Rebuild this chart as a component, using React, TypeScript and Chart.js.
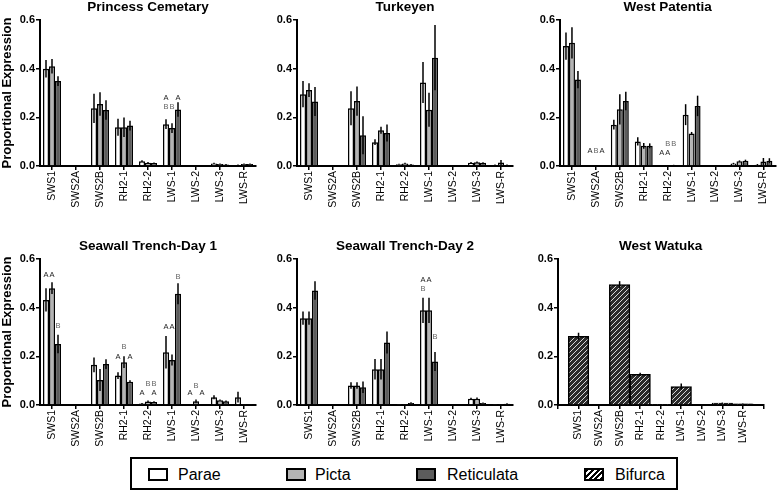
import React, { useEffect, useRef } from 'react';
import { Chart, registerables } from 'chart.js';

Chart.register(...registerables);
Chart.defaults.font.family = '"Liberation Sans", Arial, Helvetica, sans-serif';

// ---------- data ----------
const categories = ['SWS1', 'SWS2A', 'SWS2B', 'RH2-1', 'RH2-2', 'LWS-1', 'LWS-2', 'LWS-3', 'LWS-R'];
const seriesNames = ['Parae', 'Picta', 'Reticulata', 'Bifurca'];
const yTicks = [0, 0.2, 0.4, 0.6];

// Princess Cemetary
const pcParae = [0.4, 0, 0.237, 0.159, 0.02, 0.172, 0, 0.01, 0.004];
const pcParaeErr = [0.036, 0, 0.06, 0.035, 0.004, 0.02, 0, 0.003, 0.002];
const pcPicta = [0.41, 0, 0.255, 0.159, 0.013, 0.156, 0, 0.008, 0.008];
const pcPictaErr = [0.03, 0, 0.048, 0.04, 0.003, 0.02, 0, 0.002, 0.002];
const pcRetic = [0.349, 0, 0.23, 0.166, 0.012, 0.232, 0, 0.006, 0.008];
const pcReticErr = [0.02, 0, 0.04, 0.02, 0.002, 0.03, 0, 0.002, 0.002];
const pcLetters: [number, number, string, number][] = [
  [5, 0, 'A', 0.278], [5, 0, 'B', 0.244], [5, 1, 'B', 0.244], [5, 2, 'A', 0.278],
];

// Turkeyen
const tkParae = [0.295, 0, 0.237, 0.098, 0.007, 0.343, 0, 0.013, 0.004];
const tkParaeErr = [0.054, 0, 0.07, 0.012, 0.002, 0.084, 0, 0.003, 0.002];
const tkPicta = [0.312, 0, 0.267, 0.147, 0.01, 0.231, 0, 0.015, 0.014];
const tkPictaErr = [0.028, 0, 0.06, 0.014, 0.003, 0.07, 0, 0.003, 0.011];
const tkRetic = [0.265, 0, 0.126, 0.136, 0.006, 0.445, 0, 0.013, 0.004];
const tkReticErr = [0.06, 0, 0.078, 0.035, 0.002, 0.134, 0, 0.002, 0.002];
const tkLetters: [number, number, string, number][] = [];

// West Patentia
const wpParae = [0.493, 0, 0.17, 0.101, 0.003, 0.211, 0, 0.01, 0.005];
const wpParaeErr = [0.056, 0, 0.02, 0.017, 0.001, 0.043, 0, 0.003, 0.003];
const wpPicta = [0.506, 0, 0.233, 0.083, 0.003, 0.134, 0, 0.02, 0.018];
const wpPictaErr = [0.064, 0, 0.062, 0.012, 0.001, 0.006, 0, 0.003, 0.015];
const wpRetic = [0.355, 0, 0.267, 0.083, 0.004, 0.247, 0, 0.022, 0.022];
const wpReticErr = [0.035, 0, 0.038, 0.01, 0.001, 0.042, 0, 0.004, 0.01];
const wpLetters: [number, number, string, number][] = [
  [1, 0, 'A', 0.062], [1, 1, 'B', 0.062], [1, 2, 'A', 0.062],
  [4, 0, 'A', 0.055], [4, 1, 'A', 0.055], [4, 1, 'B', 0.092], [4, 2, 'B', 0.092],
];

// Seawall Trench-Day 1
const d1Parae = [0.432, 0, 0.165, 0.121, 0.006, 0.217, 0, 0.032, 0.032];
const d1ParaeErr = [0.048, 0, 0.03, 0.014, 0.002, 0.067, 0, 0.008, 0.022];
const d1Picta = [0.48, 0, 0.103, 0.176, 0.014, 0.185, 0.015, 0.02, 0.002];
const d1PictaErr = [0.024, 0, 0.045, 0.024, 0.004, 0.023, 0.008, 0.003, 0.001];
const d1Retic = [0.251, 0, 0.168, 0.096, 0.012, 0.457, 0, 0.015, 0.002];
const d1ReticErr = [0.038, 0, 0.02, 0.006, 0.003, 0.043, 0, 0.004, 0.001];
const d1Letters: [number, number, string, number][] = [
  [0, 0, 'A', 0.534], [0, 1, 'A', 0.534], [0, 2, 'B', 0.325],
  [3, 0, 'A', 0.197], [3, 1, 'B', 0.24], [3, 2, 'A', 0.197],
  [4, 0, 'A', 0.05], [4, 1, 'B', 0.086], [4, 2, 'B', 0.086], [4, 2, 'A', 0.05],
  [5, 0, 'A', 0.32], [5, 1, 'A', 0.32], [5, 2, 'B', 0.526],
  [6, 0, 'A', 0.049], [6, 1, 'B', 0.08], [6, 2, 'A', 0.049],
];

// Seawall Trench-Day 2
const d2Parae = [0.357, 0, 0.08, 0.147, 0.002, 0.389, 0, 0.026, 0.002];
const d2ParaeErr = [0.027, 0, 0.013, 0.042, 0.001, 0.052, 0, 0.004, 0.001];
const d2Picta = [0.357, 0, 0.08, 0.147, 0.002, 0.389, 0, 0.026, 0.002];
const d2PictaErr = [0.027, 0, 0.013, 0.042, 0.001, 0.052, 0, 0.005, 0.001];
const d2Retic = [0.471, 0, 0.073, 0.257, 0.008, 0.179, 0, 0.008, 0.005];
const d2ReticErr = [0.038, 0, 0.024, 0.045, 0.003, 0.039, 0, 0.002, 0.002];
const d2Letters: [number, number, string, number][] = [
  [5, 0, 'A', 0.514], [5, 1, 'A', 0.514], [5, 0, 'B', 0.477], [5, 2, 'B', 0.28],
];

// West Watuka
const wwBifurca = [0.282, 0, 0.495, 0.126, 0.003, 0.076, 0, 0.008, 0.005];
const wwBifurcaErr = [0.015, 0, 0.014, 0.007, 0.001, 0.012, 0, 0.002, 0.001];

// ---------- styles ----------
const PARAE_COLOR = '#ffffff';
const PICTA_COLOR = '#b4b4b4';
const RETIC_COLOR = '#5c5c5c';

function makeHatch(): CanvasPattern | string {
  const s = 5;
  const c = document.createElement('canvas');
  c.width = s;
  c.height = s;
  const g = c.getContext('2d');
  if (!g) return '#444';
  g.fillStyle = '#2a2a2a';
  g.fillRect(0, 0, s, s);
  g.strokeStyle = '#d8d8d8';
  g.lineWidth = 1;
  g.beginPath();
  g.moveTo(0, s);
  g.lineTo(s, 0);
  g.moveTo(-1, 1);
  g.lineTo(1, -1);
  g.moveTo(s - 1, s + 1);
  g.lineTo(s + 1, s - 1);
  g.stroke();
  const p = g.createPattern(c, 'repeat');
  return p || '#444';
}

const errorBarPlugin = {
  id: 'errorBars',
  afterDatasetsDraw(chart: any) {
    const ctx = chart.ctx;
    const ys = chart.scales.y;
    ctx.save();
    ctx.strokeStyle = '#000';
    ctx.lineWidth = 1.5;
    chart.data.datasets.forEach((ds: any, i: number) => {
      const meta = chart.getDatasetMeta(i);
      meta.data.forEach((el: any, j: number) => {
        const v = ds.data[j];
        const e = ds.errors ? ds.errors[j] : 0;
        if (v == null || !e) return;
        const y1 = ys.getPixelForValue(v + e);
        const y2 = ys.getPixelForValue(Math.max(0, v - e));
        ctx.beginPath();
        ctx.moveTo(el.x, y1);
        ctx.lineTo(el.x, y2);
        ctx.stroke();
      });
    });
    ctx.restore();
  },
};

const lettersPlugin = {
  id: 'letters',
  afterDatasetsDraw(chart: any, _args: any, opts: any) {
    const list = opts.items || [];
    const ctx = chart.ctx;
    const ys = chart.scales.y;
    ctx.save();
    ctx.font = '7.5px "Liberation Sans", Arial, sans-serif';
    ctx.textAlign = 'center';
    ctx.textBaseline = 'middle';
    list.forEach(([cat, series, text, yv]: [number, number, string, number]) => {
      const el = chart.getDatasetMeta(series).data[cat];
      if (!el) return;
      ctx.fillStyle = text === 'A' ? '#222' : '#666';
      ctx.fillText(text, el.x, ys.getPixelForValue(yv));
    });
    ctx.restore();
  },
};

const panelTitlePlugin = {
  id: 'panelTitle',
  afterDraw(chart: any, _args: any, opts: any) {
    const ctx = chart.ctx;
    const a = chart.chartArea;
    ctx.save();
    ctx.font = 'bold 13.5px "Liberation Sans", Arial, sans-serif';
    ctx.fillStyle = '#000';
    ctx.textAlign = 'center';
    ctx.textBaseline = 'middle';
    ctx.fillText(opts.text || '', (a.left + a.right) / 2, a.top - 13);
    ctx.restore();
  },
};

type PanelProps = {
  left: number;
  top: number;
  chartW: number;
  padRight: number;
  clip?: number;
  title: string;
  labels: string[];
  datasets: any[];
  letters: [number, number, string, number][];
  yTitle?: boolean;
  offset: boolean;
};

const Y_W = 40;
const PAD_TOP = 20;
const CHART_H = 146;
const X_H = 45;

function Panel(p: PanelProps) {
  const ref = useRef<HTMLCanvasElement | null>(null);
  const width = Y_W + p.chartW + p.padRight;
  const height = PAD_TOP + CHART_H + X_H;
  useEffect(() => {
    if (!ref.current) return;
    const chart = new Chart(ref.current, {
      type: 'bar',
      data: { labels: p.labels, datasets: p.datasets },
      plugins: [errorBarPlugin, lettersPlugin, panelTitlePlugin],
      options: {
        responsive: false,
        animation: false,
        devicePixelRatio: 1,
        layout: { padding: { top: PAD_TOP, right: p.padRight, left: 0, bottom: 0 } },
        plugins: {
          legend: { display: false },
          tooltip: { enabled: false },
          title: { display: false },
          letters: { items: p.letters },
          panelTitle: { text: p.title },
        } as any,
        scales: {
          x: {
            type: 'category',
            offset: p.offset,
            afterFit: (s: any) => { s.height = X_H; },
            grid: { display: true, drawOnChartArea: false, drawTicks: true, tickLength: 4, color: '#000', lineWidth: 1.5, offset: false },
            border: { display: true, color: '#000', width: 2 },
            ticks: { color: '#000', font: { size: 10.5 }, maxRotation: 90, minRotation: 90, autoSkip: false, padding: 1 },
          },
          y: {
            min: 0,
            max: 0.6,
            afterFit: (s: any) => { s.width = Y_W; },
            afterBuildTicks: (s: any) => { s.ticks = yTicks.map((v) => ({ value: v })); },
            grid: { display: true, drawOnChartArea: false, drawTicks: true, tickLength: 4, color: '#000', lineWidth: 1.5 },
            border: { display: true, color: '#000', width: 2 },
            ticks: { color: '#000', font: { size: 11, weight: 'bold' }, padding: 1, callback: (v: any) => Number(v).toFixed(1) },
            title: {
              display: !!p.yTitle,
              text: 'Proportional Expression',
              color: '#000',
              font: { size: 13, weight: 'bold' },
              padding: 0,
            },
          },
        },
      } as any,
    });
    return () => chart.destroy();
  }, []);
  return (
    <div
      style={{
        position: 'absolute',
        left: p.left - Y_W,
        top: p.top - PAD_TOP,
        width,
        height: p.clip ?? height,
        overflow: 'hidden',
      }}
    >
      <canvas ref={ref} width={width} height={height} style={{ display: 'block', width, height }} />
    </div>
  );
}

function three(pa: number[], pae: number[], pi: number[], pie: number[], re: number[], ree: number[]) {
  const common = { borderColor: '#000', borderWidth: 1.5, categoryPercentage: 0.75, barPercentage: 1 };
  return [
    { label: seriesNames[0], data: pa, errors: pae, backgroundColor: PARAE_COLOR, ...common },
    { label: seriesNames[1], data: pi, errors: pie, backgroundColor: PICTA_COLOR, ...common },
    { label: seriesNames[2], data: re, errors: ree, backgroundColor: RETIC_COLOR, ...common },
  ];
}

const legendItem = (label: string, bg: string, x: number, tx: number) => (
  <React.Fragment key={label}>
    <div
      style={{
        position: 'absolute',
        left: x - 130,
        top: 9,
        width: 20,
        height: 13,
        boxSizing: 'border-box',
        border: '2px solid #000',
        background: bg,
      }}
    />
    <div
      style={{
        position: 'absolute',
        left: tx - 130,
        top: 6,
        fontSize: 16,
        lineHeight: '19px',
        color: '#000',
        whiteSpace: 'nowrap',
      }}
    >
      {label}
    </div>
  </React.Fragment>
);

export default function App() {
  const hatch = makeHatch();
  const wwLabels = ['', ...categories, ''];
  const wwData = [null, ...wwBifurca, null];
  const wwErr = [0, ...wwBifurcaErr, 0];
  return (
    <div
      style={{
        position: 'absolute',
        left: 0,
        top: 0,
        width: 777,
        height: 492,
        background: '#fff',
        overflow: 'hidden',
        fontFamily: '"Liberation Sans", Arial, Helvetica, sans-serif',
      }}
    >
      <Panel left={40} top={20} chartW={216} padRight={10} title="Princess Cemetary" labels={categories}
        datasets={three(pcParae, pcParaeErr, pcPicta, pcPictaErr, pcRetic, pcReticErr)} letters={pcLetters} yTitle offset />
      <Panel left={297} top={20} chartW={216} padRight={10} title="Turkeyen" labels={categories}
        datasets={three(tkParae, tkParaeErr, tkPicta, tkPictaErr, tkRetic, tkReticErr)} letters={tkLetters} offset />
      <Panel left={560} top={20} chartW={217} padRight={0} title="West Patentia" labels={categories}
        datasets={three(wpParae, wpParaeErr, wpPicta, wpPictaErr, wpRetic, wpReticErr)} letters={wpLetters} offset />
      <Panel left={40} top={259} chartW={216} padRight={10} clip={207} title="Seawall Trench-Day 1" labels={categories}
        datasets={three(d1Parae, d1ParaeErr, d1Picta, d1PictaErr, d1Retic, d1ReticErr)} letters={d1Letters} yTitle offset />
      <Panel left={297} top={259} chartW={216} padRight={10} clip={207} title="Seawall Trench-Day 2" labels={categories}
        datasets={three(d2Parae, d2ParaeErr, d2Picta, d2PictaErr, d2Retic, d2ReticErr)} letters={d2Letters} offset />
      <Panel left={558} top={259} chartW={217.5} padRight={1.5} clip={207} title="West Watuka" labels={wwLabels}
        datasets={[{
          label: seriesNames[3], data: wwData, errors: wwErr, backgroundColor: hatch,
          borderColor: '#000', borderWidth: 1.5, categoryPercentage: 1, barPercentage: 1,
        }]} letters={[]} offset={false} />
      <div
        style={{
          position: 'absolute',
          left: 130,
          top: 457,
          width: 548,
          height: 33,
          boxSizing: 'border-box',
          border: '2px solid #000',
          background: '#fff',
        }}
      >
        {legendItem(seriesNames[0], PARAE_COLOR, 146, 176)}
        {legendItem(seriesNames[1], PICTA_COLOR, 284, 313)}
        {legendItem(seriesNames[2], RETIC_COLOR, 414, 445)}
        {legendItem(seriesNames[3], 'repeating-linear-gradient(135deg, #000 0px, #000 2px, #fff 2px, #fff 4px)', 582, 613)}
      </div>
    </div>
  );
}
